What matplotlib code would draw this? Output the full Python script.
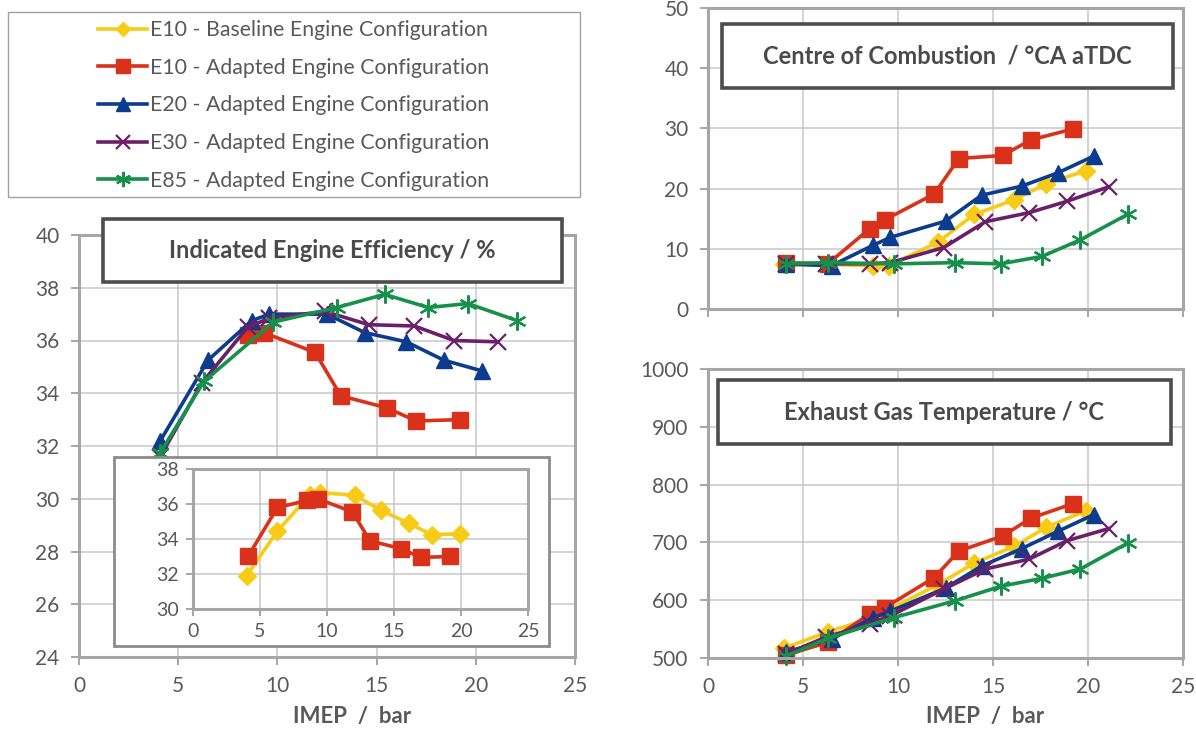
import matplotlib
matplotlib.use("Agg")
import matplotlib.pyplot as plt
from matplotlib.patches import Rectangle

plt.rcParams['font.family'] = ['Lato', 'DejaVu Sans']

# ---- data ----
labels = ["E10 - Baseline Engine Configuration",
          "E10 - Adapted Engine Configuration",
          "E20 - Adapted Engine Configuration",
          "E30 - Adapted Engine Configuration",
          "E85 - Adapted Engine Configuration"]

imep_e10b = [4.0, 6.3, 8.7, 9.5, 12.1, 14.0, 16.1, 17.8, 19.9]
imep_e10a = [4.1, 6.3, 8.5, 9.3, 11.9, 13.2, 15.5, 17.0, 19.2]
imep_e20 = [4.1, 6.5, 8.7, 9.6, 12.5, 14.4, 16.5, 18.4, 20.3]
imep_e30 = [4.1, 6.2, 8.5, 9.6, 12.4, 14.6, 16.9, 18.9, 21.1]
imep_e85 = [4.1, 6.3, 9.8, 13.0, 15.4, 17.6, 19.6, 22.1]

# indicated efficiency / %
eff_e10b = [31.9, 34.45, 36.5, 36.65, 36.5, 35.65, 34.9, 34.25, 34.3]
eff_e10a = [33.0, 35.8, 36.2, 36.3, 35.55, 33.9, 33.45, 32.95, 33.0]
eff_e20 = [32.2, 35.25, 36.75, 37.0, 37.0, 36.3, 35.95, 35.25, 34.85]
eff_e30 = [31.6, 34.4, 36.5, 36.85, 37.1, 36.6, 36.55, 36.0, 35.95]
eff_e85 = [31.75, 34.45, 36.7, 37.25, 37.75, 37.25, 37.4, 36.75]

# centre of combustion / degCA aTDC
coc_e10b = [7.5, 7.4, 7.2, 7.2, 11.1, 15.7, 18.1, 20.8, 23.0]
coc_e10a = [7.7, 7.5, 13.3, 14.8, 19.1, 25.0, 25.5, 28.1, 29.9]
coc_e20 = [7.45, 7.2, 10.6, 11.9, 14.6, 18.9, 20.4, 22.6, 25.4]
coc_e30 = [7.5, 7.5, 7.5, 7.7, 10.2, 14.5, 16.0, 17.9, 20.3]
coc_e85 = [7.5, 7.7, 7.5, 7.7, 7.5, 8.75, 11.5, 15.75]

# exhaust gas temperature / degC
egt_e10b = [517, 545, 570, 583, 627, 664, 693, 726, 755]
egt_e10a = [505, 527, 576, 587, 639, 685, 711, 742, 767]
egt_e20 = [510, 533, 570, 581, 621, 659, 689, 719, 748]
egt_e30 = [507, 536, 559, 573, 619, 654, 671, 703, 724]
egt_e85 = [503, 534, 570, 599, 624, 638, 654, 699]

colors = ["#F7CB16", "#D9311A", "#0C3C8E", "#6A2068", "#16904A"]
markers = ["D", "s", "^", "x", (6, 2, 0)]
msizes = [9, 12, 12, 12, 13]
medges = [1, 1, 1, 1.6, 1.6]

TXT = "#595959"
GRID = "#C8C8C8"
SPINE = "#A6A6A6"
W, H = 1196, 731


def style_axes(ax, xl, yl, ystep, fs=15, xlabels=True):
    ax.set_xlim(*xl)
    ax.set_ylim(*yl)
    ax.set_xticks(range(0, 26, 5))
    ax.set_yticks(range(yl[0], yl[1] + 1, ystep))
    ax.grid(True, color=GRID, lw=1.1)
    ax.set_axisbelow(True)
    for s in ax.spines.values():
        s.set_color(SPINE)
        s.set_linewidth(2.2)
    ax.tick_params(colors=SPINE, labelcolor=TXT, labelsize=fs, length=6,
                   width=1.4, direction='out', pad=8)
    if not xlabels:
        ax.tick_params(axis='x', labelbottom=False)


def plot_series(ax, xs, ys, idx, clip=False):
    ax.plot(xs, ys, color=colors[idx], marker=markers[idx], ms=msizes[idx],
            mew=medges[idx], mec=colors[idx], lw=2.6, label=labels[idx],
            clip_on=clip)


def title_box(fig, x0, y0, x1, y1, text, fs=17):
    rect = Rectangle((x0 / W, 1 - y1 / H), (x1 - x0) / W, (y1 - y0) / H,
                     transform=fig.transFigure, facecolor="white",
                     edgecolor="#4D4D4D", lw=2.6, zorder=5)
    fig.add_artist(rect)
    fig.text((x0 + x1) / 2 / W, 1 - (y0 + y1) / 2 / H, text, ha='center',
             va='center', fontsize=fs, fontweight='bold', color="#4A4A4A",
             zorder=6)


fig = plt.figure(figsize=(11.96, 7.31), dpi=100)


def axes_px(x0, y0, x1, y1):
    return fig.add_axes([x0 / W, 1 - y1 / H, (x1 - x0) / W, (y1 - y0) / H])


# ---- left: indicated efficiency ----
ax1 = axes_px(79, 235, 575, 657)
plot_series(ax1, imep_e10a[2:], eff_e10a[2:], 1, clip=True)
plot_series(ax1, imep_e20, eff_e20, 2, clip=True)
plot_series(ax1, imep_e30, eff_e30, 3, clip=True)
plot_series(ax1, imep_e85, eff_e85, 4, clip=True)
style_axes(ax1, (0, 25), (24, 40), 2)

# inset frame and inset axes
frame = Rectangle((114 / W, 1 - 646 / H), (549 - 114) / W, (646 - 457) / H,
                  transform=fig.transFigure, facecolor="white",
                  edgecolor="#8C8C8C", lw=2.0, zorder=2)
fig.add_artist(frame)
ax_in = axes_px(193, 469, 528, 609)
ax_in.set_zorder(3)
plot_series(ax_in, imep_e10b, eff_e10b, 0)
plot_series(ax_in, imep_e10a, eff_e10a, 1)
style_axes(ax_in, (0, 25), (30, 38), 2, fs=14)
ax_in.tick_params(pad=5, length=5)

# ---- top right: centre of combustion ----
ax2 = axes_px(708, 8, 1183, 309)
plot_series(ax2, imep_e10b, coc_e10b, 0)
plot_series(ax2, imep_e10a, coc_e10a, 1)
plot_series(ax2, imep_e20, coc_e20, 2)
plot_series(ax2, imep_e30, coc_e30, 3)
plot_series(ax2, imep_e85, coc_e85, 4)
style_axes(ax2, (0, 25), (0, 50), 10, xlabels=False)

# ---- bottom right: exhaust gas temperature ----
ax3 = axes_px(708, 369, 1183, 658)
plot_series(ax3, imep_e10b, egt_e10b, 0)
plot_series(ax3, imep_e10a, egt_e10a, 1)
plot_series(ax3, imep_e20, egt_e20, 2)
plot_series(ax3, imep_e30, egt_e30, 3)
plot_series(ax3, imep_e85, egt_e85, 4)
style_axes(ax3, (0, 25), (500, 1000), 100)

# axis labels
fig.text(352 / W, 1 - 717 / H, "IMEP  /  bar", ha='center', va='center',
         fontsize=16, fontweight='bold', color=TXT)
fig.text(985 / W, 1 - 717 / H, "IMEP  /  bar", ha='center', va='center',
         fontsize=16, fontweight='bold', color=TXT)

# title boxes
title_box(fig, 103, 219, 562, 282, "Indicated Engine Efficiency / %")
title_box(fig, 722, 24, 1173, 88, "Centre of Combustion  / °CA aTDC")
title_box(fig, 718, 380, 1171, 444, "Exhaust Gas Temperature / °C")

# legend (built from the series styles)
handles = [plt.Line2D([], [], color=colors[i], marker=markers[i],
                      ms=msizes[i] - 2, mew=medges[i], lw=2.6)
           for i in range(5)]
leg = fig.legend(handles, labels, loc='center',
                 bbox_to_anchor=(8 / W, 1 - 199 / H, (580 - 8) / W, (199 - 12) / H),
                 frameon=False, fontsize=15.3, handlelength=2.3,
                 handletextpad=0.15, labelspacing=0.83, borderpad=0.2)
for t in leg.get_texts():
    t.set_color(TXT)
fig.add_artist(Rectangle((8 / W, 1 - 197 / H), (580 - 8) / W, (197 - 12) / H,
                         transform=fig.transFigure, facecolor="none",
                         edgecolor="#A0A0A0", lw=1.0))

fig.savefig("out.png", dpi=100, facecolor="white")
